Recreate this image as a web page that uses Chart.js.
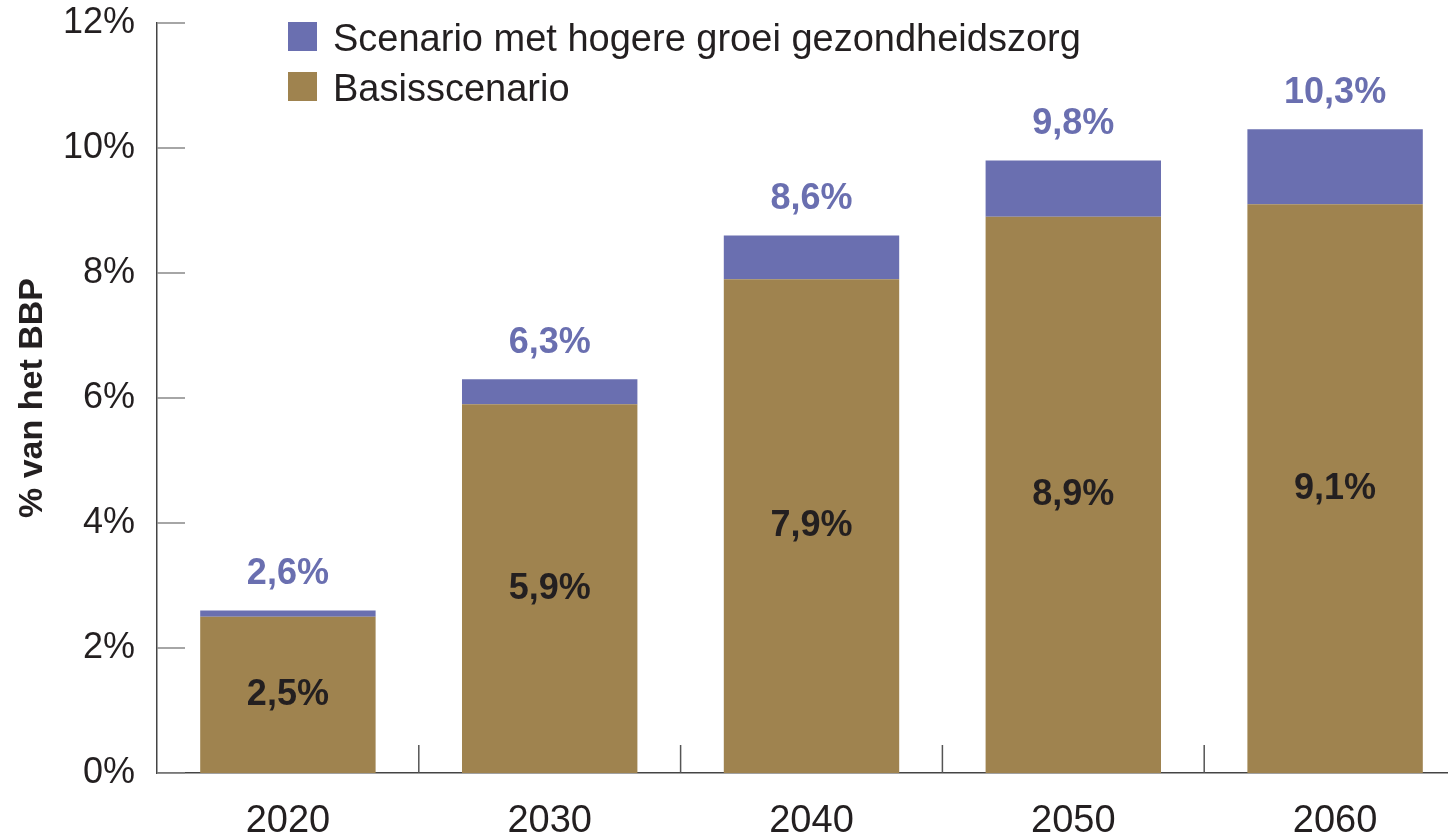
<!DOCTYPE html>
<html>
<head>
<meta charset="utf-8">
<script src="https://cdn.jsdelivr.net/npm/chart.js@4.4.1/dist/chart.umd.min.js"></script>
<style>
  html, body { margin: 0; padding: 0; background: #fff; overflow: hidden; }
  #wrap { width: 1470px; height: 835px; }
</style>
</head>
<body>
<div id="wrap"><canvas id="myChart" width="1470" height="835"></canvas></div>
<script>
// data
const years = ['2020', '2030', '2040', '2050', '2060'];
const basis = [2.5, 5.9, 7.9, 8.9, 9.1];
const extra = [0.1, 0.4, 0.7, 0.9, 1.2];
const totaal = [2.6, 6.3, 8.6, 9.8, 10.3];
const yTicks = [0, 2, 4, 6, 8, 10, 12];

const PURPLE = '#6a6fb0';
const TAN = '#9f834f';
const DARK = '#231f20';
const FONT = '"Liberation Sans", Arial, sans-serif';

function pct(v) { return v.toFixed(1).replace('.', ',') + '%'; }

// short ticks drawn inside the plot area
const innerTicks = {
  id: 'innerTicks',
  beforeDatasetsDraw(chart) {
    const { ctx, chartArea, scales: { x, y } } = chart;
    ctx.save();
    ctx.strokeStyle = '#888';
    ctx.lineWidth = 1.5;
    yTicks.forEach(v => {
      const py = y.getPixelForValue(v);
      ctx.beginPath();
      ctx.moveTo(chartArea.left, py);
      ctx.lineTo(chartArea.left + 28, py);
      ctx.stroke();
    });
    ctx.strokeStyle = '#555';
    for (let i = 1; i < years.length; i++) {
      const px = (x.getPixelForValue(i - 1) + x.getPixelForValue(i)) / 2;
      ctx.beginPath();
      ctx.moveTo(px, chartArea.bottom);
      ctx.lineTo(px, chartArea.bottom - 28);
      ctx.stroke();
    }
    ctx.restore();
  }
};

// value labels
const valueLabels = {
  id: 'valueLabels',
  afterDatasetsDraw(chart) {
    const ctx = chart.ctx;
    ctx.save();
    ctx.textAlign = 'center';
    ctx.textBaseline = 'middle';
    ctx.font = 'bold 36px ' + FONT;
    chart.getDatasetMeta(0).data.forEach((el, i) => {
      ctx.fillStyle = DARK;
      ctx.fillText(pct(basis[i]), el.x, (el.y + el.base) / 2);
    });
    chart.getDatasetMeta(1).data.forEach((el, i) => {
      ctx.fillStyle = PURPLE;
      ctx.fillText(pct(totaal[i]), el.x, el.y - 36);
    });
    ctx.restore();
  }
};

// legend inside the plot, top-left
const boxLegend = {
  id: 'boxLegend',
  afterDraw(chart) {
    const ctx = chart.ctx;
    const items = chart.data.datasets.slice().reverse();
    ctx.save();
    ctx.textBaseline = 'middle';
    ctx.textAlign = 'left';
    ctx.font = '38px ' + FONT;
    items.forEach((ds, i) => {
      const top = 22 + i * 50;
      ctx.fillStyle = ds.backgroundColor;
      ctx.fillRect(288, top, 29, 29);
      ctx.fillStyle = DARK;
      ctx.fillText(ds.label, 333, top + 19);
    });
    ctx.restore();
  }
};

new Chart(document.getElementById('myChart'), {
  type: 'bar',
  data: {
    labels: years,
    datasets: [
      { label: 'Basisscenario', data: basis, backgroundColor: TAN },
      { label: 'Scenario met hogere groei gezondheidszorg', data: extra, backgroundColor: PURPLE }
    ]
  },
  options: {
    responsive: false,
    animation: false,
    layout: { padding: { top: 23, right: 4, left: 0, bottom: 0 } },
    datasets: { bar: { categoryPercentage: 1, barPercentage: 0.67, borderWidth: 0 } },
    plugins: { legend: { display: false }, tooltip: { enabled: false } },
    scales: {
      x: {
        stacked: true,
        grid: { display: false, drawTicks: false },
        border: { display: true, color: '#444', width: 1.5 },
        ticks: { color: DARK, font: { family: FONT, size: 38 }, padding: 26 },
        afterFit(scale) { scale.height = 62; scale.paddingLeft = 0; scale.paddingRight = 0; }
      },
      y: {
        stacked: true,
        min: 0,
        max: 12,
        grid: { display: false, drawTicks: false },
        border: { display: true, color: '#444', width: 1.5 },
        ticks: {
          stepSize: 2,
          color: DARK,
          padding: 22,
          font: { family: FONT, size: 36 },
          callback: v => v + '%'
        },
        title: {
          display: true,
          text: '% van het BBP',
          color: DARK,
          font: { family: FONT, size: 34, weight: 'bold' },
          padding: { top: 12, bottom: 0 }
        },
        afterFit(scale) { scale.width = 157; scale.paddingTop = 0; scale.paddingBottom = 0; }
      }
    }
  },
  plugins: [innerTicks, valueLabels, boxLegend]
});
</script>
</body>
</html>
